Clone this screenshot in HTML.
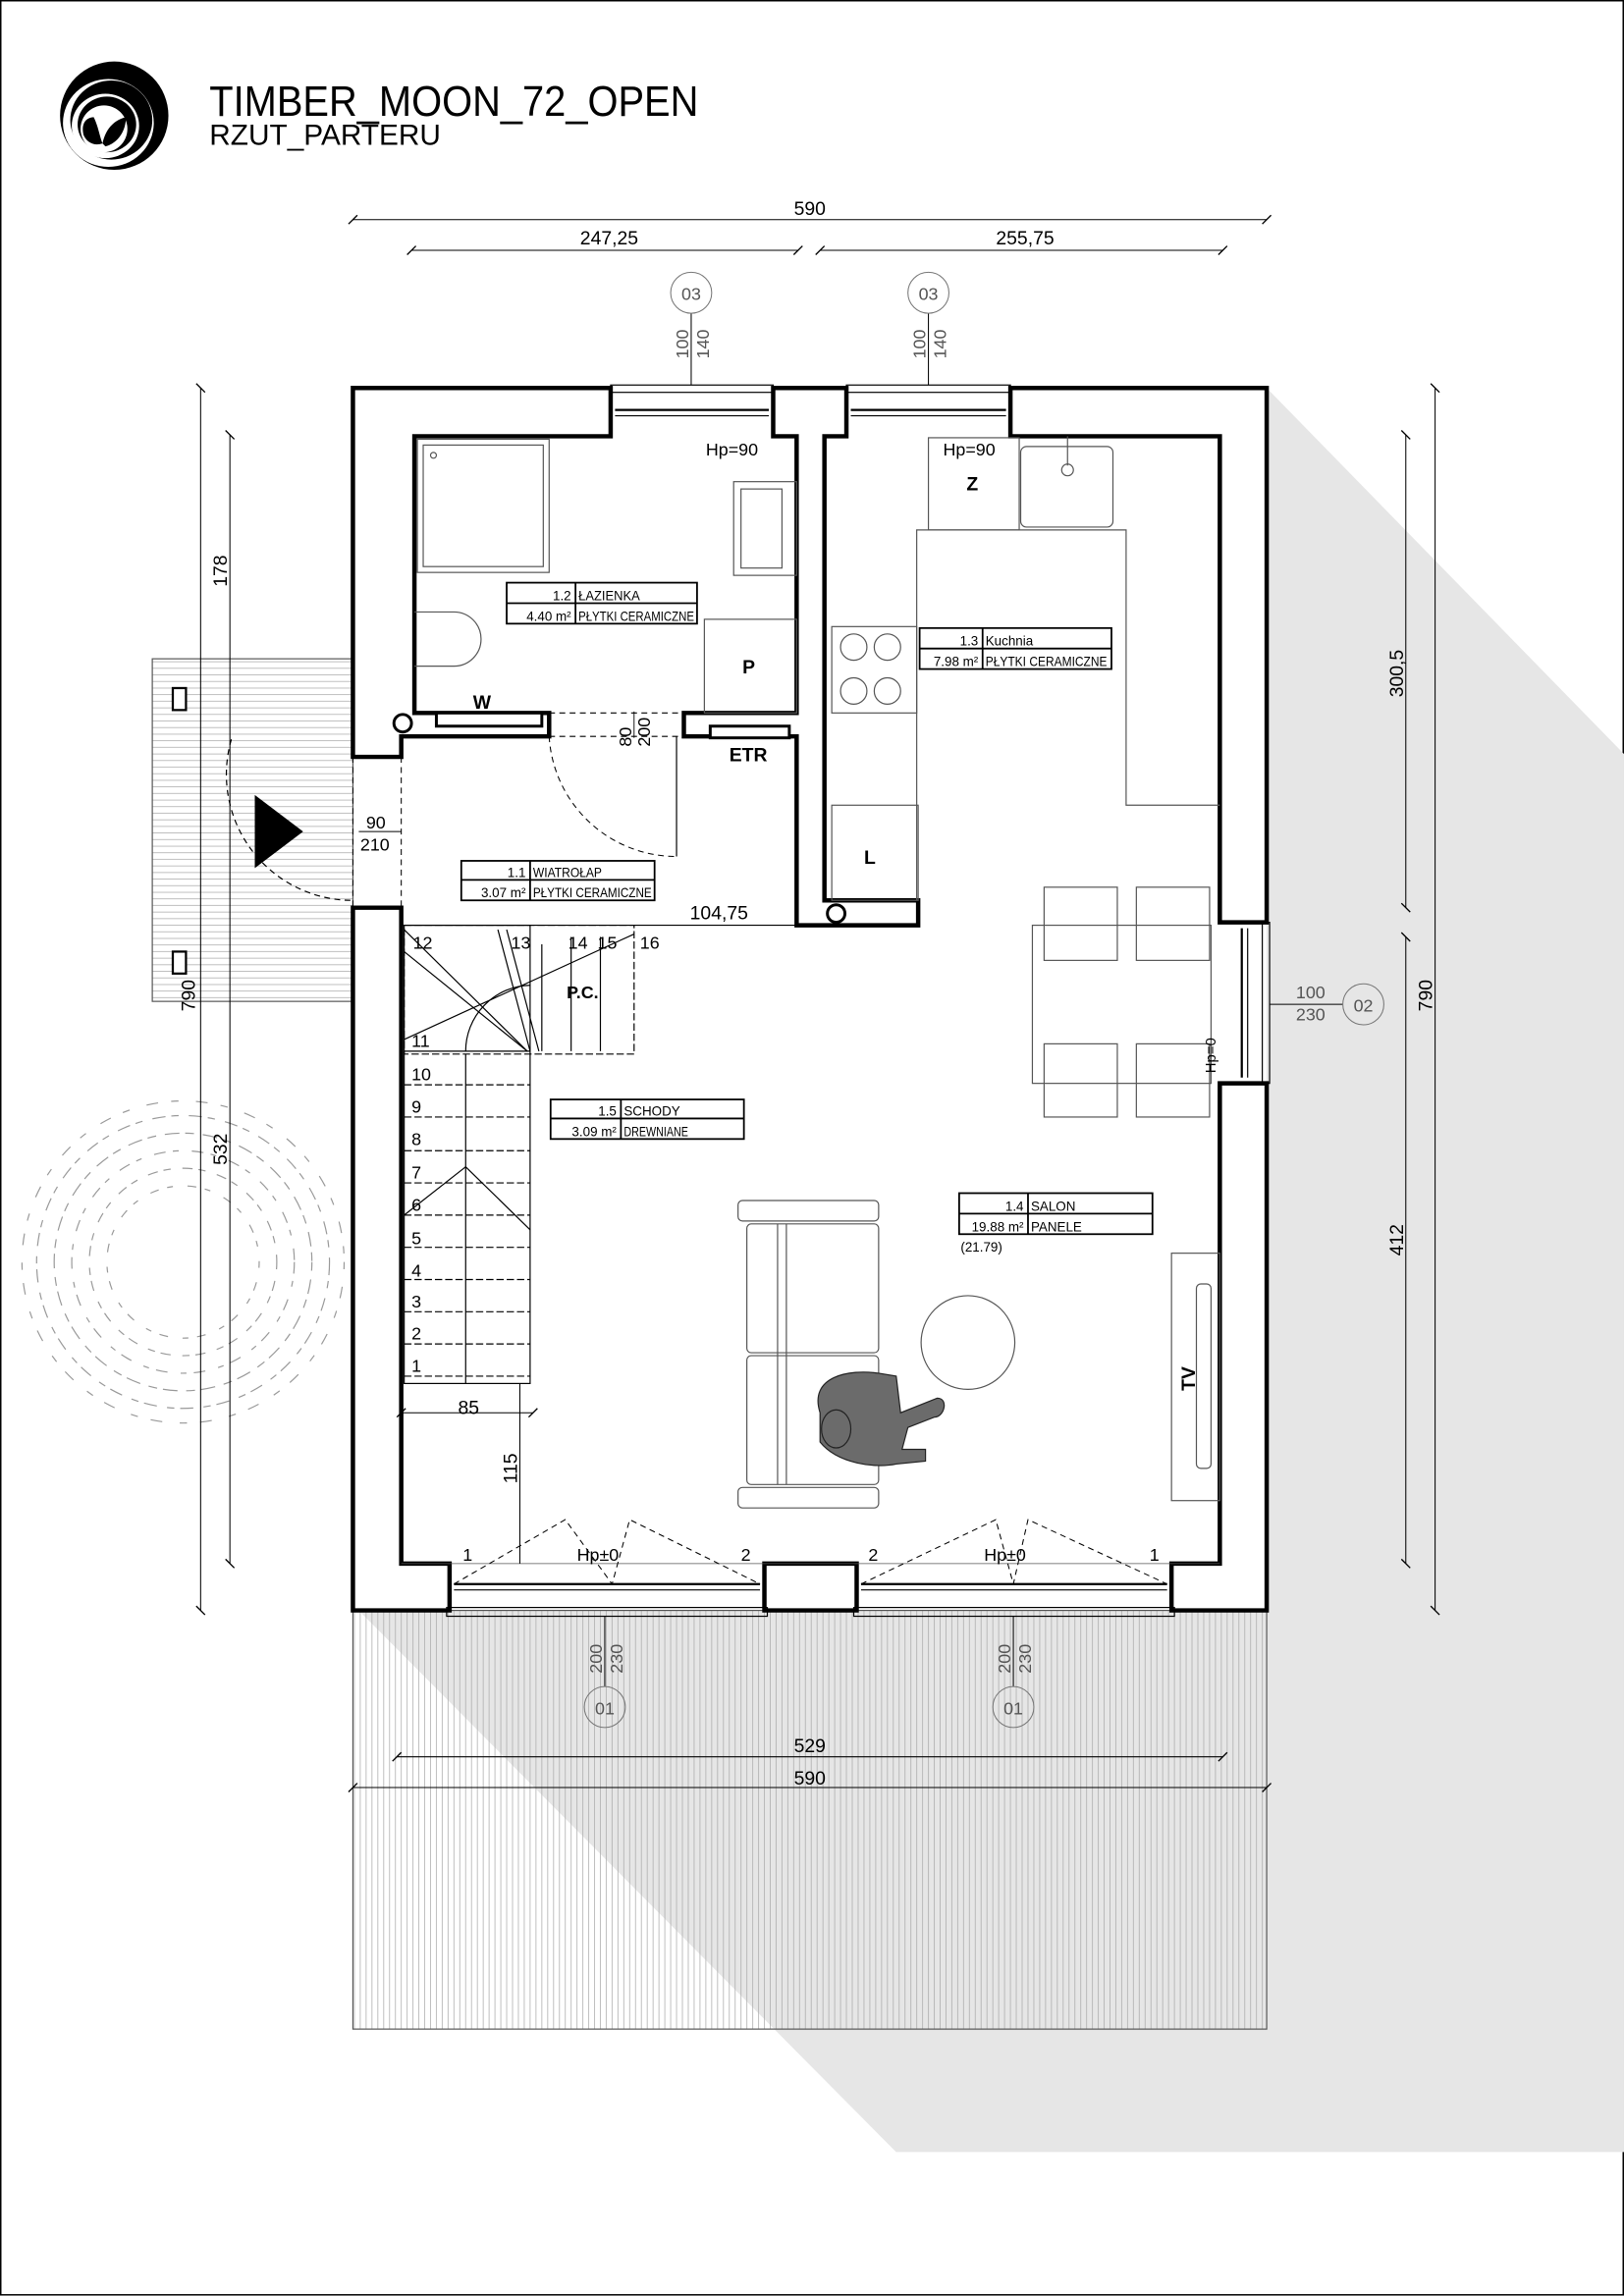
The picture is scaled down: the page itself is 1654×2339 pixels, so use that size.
<!DOCTYPE html>
<html><head><meta charset="utf-8"><style>
html,body{margin:0;padding:0;background:#fff}
svg{display:block}
text{font-family:"Liberation Sans",sans-serif}
</style></head><body>
<svg width="1654" height="2339" viewBox="0 0 1109 1568.3" xmlns="http://www.w3.org/2000/svg">
<rect x="0.5" y="0.5" width="1108" height="1567" fill="#fff" stroke="#000" stroke-width="1"/>
<polygon points="865,265 1109,515 1109,1470 612,1470 245,1100 865,1100" fill="#e6e6e6"/>
<pattern id="vl" width="4" height="10" patternUnits="userSpaceOnUse"><line x1="2" y1="0" x2="2" y2="10" stroke="#aaa" stroke-width="0.5"/></pattern>
<rect x="241" y="1100" width="624" height="286" fill="url(#vl)" stroke="#555" stroke-width="0.8"/>
<pattern id="hl" width="10" height="4.5" patternUnits="userSpaceOnUse"><line x1="0" y1="2" x2="10" y2="2" stroke="#aaa" stroke-width="0.5"/></pattern>
<rect x="104" y="450" width="137" height="234" fill="url(#hl)" stroke="#555" stroke-width="0.8"/>
<rect x="118" y="470" width="9" height="15" fill="#fff" stroke="#000" stroke-width="1.5"/>
<rect x="118" y="650" width="9" height="15" fill="#fff" stroke="#000" stroke-width="1.5"/>
<polygon points="174,543 207,568 174,593" fill="#000"/>
<path d="M158,505 A86,86 0 0 0 241,615" fill="none" stroke="#000" stroke-width="0.8" stroke-dasharray="4,3"/>
<g fill="none" stroke="#999" stroke-width="0.8">
<circle cx="125" cy="862" r="100" stroke-dasharray="9,4,5,7"/>
<circle cx="125" cy="862" r="88" stroke-dasharray="6,6,10,4"/>
<circle cx="125" cy="862" r="76" stroke-dasharray="8,5,4,9"/>
<circle cx="125" cy="862" r="64" stroke-dasharray="5,8,7,4"/>
<circle cx="125" cy="862" r="52" stroke-dasharray="4,10,6,6"/>
<circle cx="125" cy="862" r="110" stroke-dasharray="5,12,8,9"/>
</g>
<g fill="#fff" stroke="#000" stroke-width="3" stroke-linejoin="miter">
<polygon points="241,265 417,265 417,298 283,298 283,487 375,487 375,503 274,503 274,517 241,517"/>
<polygon points="528,265 578,265 578,298 563,298 563,615 627,615 627,632 544,632 544,503 467,503 467,487 544,487 544,298 528,298"/>
<polygon points="690,265 865,265 865,630 833,630 833,298 690,298"/>
<polygon points="833,740 865,740 865,1100 800,1100 800,1068 833,1068"/>
<polygon points="522,1068 585,1068 585,1100 522,1100"/>
<polygon points="241,620 274,620 274,1068 307,1068 307,1100 241,1100"/>
</g>
<g fill="none" stroke="#000" stroke-width="0.8">
<rect x="417" y="263" width="111" height="5"/><line x1="420" y1="280" x2="525" y2="280" stroke-width="1.5"/><line x1="420" y1="284" x2="525" y2="284"/>
<rect x="578" y="263" width="112" height="5"/><line x1="581" y1="280" x2="687" y2="280" stroke-width="1.5"/><line x1="581" y1="284" x2="687" y2="284"/>
<rect x="862" y="630" width="5" height="110"/><line x1="848" y1="634" x2="848" y2="736" stroke-width="1.5"/><line x1="852" y1="634" x2="852" y2="736"/>
<rect x="305" y="1098" width="219" height="6"/><line x1="310" y1="1082" x2="519" y2="1082" stroke-width="1.5"/><line x1="310" y1="1086" x2="519" y2="1086"/>
<rect x="583" y="1098" width="219" height="6"/><line x1="588" y1="1082" x2="797" y2="1082" stroke-width="1.5"/><line x1="588" y1="1086" x2="797" y2="1086"/>
<line x1="274" y1="1068" x2="833" y2="1068" stroke="#555" stroke-width="0.5"/>
</g>
<g fill="none" stroke="#000" stroke-width="0.7" stroke-dasharray="4,3">
<path d="M310,1082 L386,1038 L418,1082 L430,1038 L519,1082"/>
<path d="M588,1082 L680,1038 L692,1082 L702,1038 L797,1082"/>
<path d="M375,503 A87,87 0 0 0 462,585"/>
<line x1="375" y1="487" x2="467" y2="487"/><line x1="375" y1="503" x2="467" y2="503"/>
<line x1="241" y1="517" x2="241" y2="620"/><line x1="274" y1="517" x2="274" y2="620"/>
</g>
<line x1="462" y1="503" x2="462" y2="585" stroke="#000" stroke-width="0.8"/>
<g fill="none" stroke="#555" stroke-width="0.8">
<rect x="285" y="300" width="90" height="91"/><rect x="289" y="304" width="82" height="83"/>
<circle cx="296" cy="311" r="2"/>
<rect x="501" y="329" width="43" height="64"/><rect x="506" y="334" width="28" height="54"/>
<path d="M283,418 H310 A18,18 0 0 1 310,455 H283"/>
<rect x="481" y="423" width="63" height="64"/>
<rect x="298" y="487" width="72" height="9" stroke="#000" stroke-width="2" fill="#fff"/>
<rect x="485" y="496" width="54" height="8" stroke="#000" stroke-width="2" fill="#fff"/>
<rect x="634" y="299" width="62" height="63"/>
<rect x="697" y="305" width="63" height="55" rx="4"/><circle cx="729" cy="321" r="4"/><line x1="729" y1="298" x2="729" y2="318"/>
<path d="M626,615 V362 H769 V550 H833"/>
<rect x="568" y="428" width="58" height="59"/>
<circle cx="583" cy="442" r="9"/><circle cx="606" cy="442" r="9"/><circle cx="583" cy="472" r="9"/><circle cx="606" cy="472" r="9"/>
<rect x="568" y="550" width="59" height="65"/>
<rect x="705" y="632" width="122" height="108"/>
<rect x="713" y="606" width="50" height="50"/><rect x="776" y="606" width="50" height="50"/>
<rect x="713" y="713" width="50" height="50"/><rect x="776" y="713" width="50" height="50"/>
<rect x="504" y="820" width="96" height="14" rx="3"/><rect x="504" y="1016" width="96" height="14" rx="3"/>
<rect x="510" y="836" width="90" height="88" rx="3"/><rect x="510" y="926" width="90" height="88" rx="3"/>
<line x1="537" y1="836" x2="537" y2="1014"/><line x1="531" y1="836" x2="531" y2="1014"/>
<circle cx="661" cy="917" r="32"/>
<rect x="800" y="856" width="33" height="169"/><rect x="817" y="877" width="10" height="126" rx="3"/>
</g>
<circle cx="275" cy="494" r="6" fill="#fff" stroke="#000" stroke-width="2"/>
<circle cx="571" cy="624" r="6" fill="#fff" stroke="#000" stroke-width="2"/>
<g fill="#6b6b6b" stroke="#222" stroke-width="0.8">
<path d="M560,965 C552,940 580,935 600,938 L612,940 L615,965 L640,955 C648,955 645,968 638,968 L620,975 L616,990 L632,990 L632,998 L612,1000 C598,1003 572,1000 560,985 Z"/>
<ellipse cx="571" cy="976" rx="10" ry="13"/>
</g>
<g fill="none" stroke="#000" stroke-width="0.8">
<rect x="276" y="632" width="86" height="313"/>
<line x1="318" y1="720" x2="318" y2="945"/>
<line x1="276" y1="718" x2="362" y2="718"/>
<g stroke-dasharray="5,2">
<line x1="276" y1="741" x2="362" y2="741"/><line x1="276" y1="763" x2="362" y2="763"/><line x1="276" y1="786" x2="362" y2="786"/>
<line x1="276" y1="808" x2="362" y2="808"/><line x1="276" y1="830" x2="362" y2="830"/><line x1="276" y1="852" x2="362" y2="852"/>
<line x1="276" y1="874" x2="362" y2="874"/><line x1="276" y1="896" x2="362" y2="896"/><line x1="276" y1="918" x2="362" y2="918"/><line x1="276" y1="940" x2="362" y2="940"/>
<rect x="276" y="632" width="157" height="88"/>
</g>
<line x1="276" y1="635" x2="360" y2="718"/><line x1="276" y1="650" x2="360" y2="718"/>
<line x1="340" y1="635" x2="362" y2="718"/><line x1="346" y1="635" x2="368" y2="718"/>
<line x1="276" y1="710" x2="433" y2="638"/>
<line x1="370" y1="645" x2="370" y2="718"/><line x1="390" y1="640" x2="390" y2="718"/><line x1="410" y1="640" x2="410" y2="718"/>
<path d="M318,718 A45,45 0 0 1 362,673"/>
<line x1="276" y1="830" x2="318" y2="797"/><line x1="318" y1="797" x2="362" y2="840"/>
</g>
<g font-size="12" fill="#000">
<text x="281" y="937">1</text><text x="281" y="915">2</text><text x="281" y="893">3</text><text x="281" y="872">4</text><text x="281" y="850">5</text><text x="281" y="827">6</text><text x="281" y="805">7</text><text x="281" y="782">8</text><text x="281" y="760">9</text><text x="281" y="738">10</text><text x="281" y="715">11</text>
<text x="282" y="648">12</text><text x="349" y="648">13</text><text x="388" y="648">14</text><text x="408" y="648">15</text><text x="437" y="648">16</text>
</g>
<text x="387" y="682" font-size="12" font-weight="bold">P.C.</text>
<g fill="none" stroke="#000" stroke-width="1.2">
<rect x="346" y="398" width="130" height="28"/><line x1="346" y1="412" x2="476" y2="412"/><line x1="393" y1="398" x2="393" y2="426"/>
<rect x="628" y="429" width="131" height="28"/><line x1="628" y1="443" x2="759" y2="443"/><line x1="671" y1="429" x2="671" y2="457"/>
<rect x="315" y="588" width="132" height="27"/><line x1="315" y1="601" x2="447" y2="601"/><line x1="362" y1="588" x2="362" y2="615"/>
<rect x="376" y="751" width="132" height="27"/><line x1="376" y1="764" x2="508" y2="764"/><line x1="424" y1="751" x2="424" y2="778"/>
<rect x="655" y="815" width="132" height="28"/><line x1="655" y1="829" x2="787" y2="829"/><line x1="702" y1="815" x2="702" y2="843"/>
</g>
<g font-size="9" fill="#000">
<text x="390" y="410" text-anchor="end">1.2</text><text x="395" y="410" textLength="42" lengthAdjust="spacingAndGlyphs">ŁAZIENKA</text>
<text x="390" y="424" text-anchor="end">4.40 m²</text><text x="395" y="424" textLength="79" lengthAdjust="spacingAndGlyphs">PŁYTKI CERAMICZNE</text>
<text x="668" y="441" text-anchor="end">1.3</text><text x="673" y="441">Kuchnia</text>
<text x="668" y="455" text-anchor="end">7.98 m²</text><text x="673" y="455" textLength="83" lengthAdjust="spacingAndGlyphs">PŁYTKI CERAMICZNE</text>
<text x="359" y="599" text-anchor="end">1.1</text><text x="364" y="599" textLength="47" lengthAdjust="spacingAndGlyphs">WIATROŁAP</text>
<text x="359" y="613" text-anchor="end">3.07 m²</text><text x="364" y="613" textLength="81" lengthAdjust="spacingAndGlyphs">PŁYTKI CERAMICZNE</text>
<text x="421" y="762" text-anchor="end">1.5</text><text x="426" y="762">SCHODY</text>
<text x="421" y="776" text-anchor="end">3.09 m²</text><text x="426" y="776" textLength="44" lengthAdjust="spacingAndGlyphs">DREWNIANE</text>
<text x="699" y="827" text-anchor="end">1.4</text><text x="704" y="827">SALON</text>
<text x="699" y="841" text-anchor="end">19.88 m²</text><text x="704" y="841">PANELE</text>
<text x="656" y="855">(21.79)</text>
</g>
<g font-size="13" font-weight="bold">
<text x="323" y="484">W</text><text x="507" y="460">P</text><text x="498" y="520">ETR</text><text x="660" y="335">Z</text><text x="590" y="590">L</text>
<text transform="translate(816,950) rotate(-90)">TV</text>
</g>
<g font-size="12" fill="#000">
<text x="482" y="311">Hp=90</text><text x="644" y="311">Hp=90</text>
<text transform="translate(830,733) rotate(-90)" font-size="10">Hp=0</text>
<text x="316" y="1066">1</text><text x="394" y="1066">Hp±0</text><text x="506" y="1066">2</text>
<text x="593" y="1066">2</text><text x="672" y="1066">Hp±0</text><text x="785" y="1066">1</text>
<text x="250" y="566">90</text><text x="246" y="581">210</text>
<text transform="translate(431,510) rotate(-90)">80</text>
<text transform="translate(444,510) rotate(-90)">200</text>
</g>
<line x1="245" y1="568" x2="274" y2="568" stroke="#000" stroke-width="0.6"/>
<line x1="433" y1="486" x2="433" y2="504" stroke="#000" stroke-width="0.6"/>
<g stroke="#000" stroke-width="0.7" fill="none">
<line x1="241" y1="150" x2="865" y2="150"/><line x1="281" y1="171" x2="545" y2="171"/><line x1="560" y1="171" x2="835" y2="171"/>
<line x1="137" y1="265" x2="137" y2="1100"/><line x1="157" y1="297" x2="157" y2="1068"/>
<line x1="980" y1="265" x2="980" y2="1100"/><line x1="960" y1="297" x2="960" y2="620"/><line x1="960" y1="640" x2="960" y2="1068"/>
<line x1="271" y1="1200" x2="835" y2="1200"/><line x1="241" y1="1221" x2="865" y2="1221"/>
<line x1="274" y1="632" x2="544" y2="632"/>
<line x1="274" y1="965" x2="364" y2="965"/><line x1="355" y1="945" x2="355" y2="1068"/>
<line x1="472" y1="214" x2="472" y2="263"/><line x1="634" y1="214" x2="634" y2="263"/>
<line x1="413" y1="1104" x2="413" y2="1152"/><line x1="692" y1="1104" x2="692" y2="1152"/>
<line x1="867" y1="686" x2="917" y2="686"/>
</g>
<g stroke="#000" stroke-width="0.9">
<path d="M238,153 l6,-6 M862,153 l6,-6 M278,174 l6,-6 M542,174 l6,-6 M557,174 l6,-6 M832,174 l6,-6 M134,262 l6,6 M134,1097 l6,6 M154,294 l6,6 M154,1065 l6,6 M977,262 l6,6 M977,1097 l6,6 M957,294 l6,6 M957,617 l6,6 M957,637 l6,6 M957,1065 l6,6 M268,1203 l6,-6 M832,1203 l6,-6 M238,1224 l6,-6 M862,1224 l6,-6 M271,968 l6,-6 M361,968 l6,-6"/>
</g>
<g fill="none" stroke="#777" stroke-width="0.7">
<circle cx="472" cy="200" r="14"/><circle cx="634" cy="200" r="14"/>
<circle cx="413" cy="1166" r="14"/><circle cx="692" cy="1166" r="14"/>
<circle cx="931" cy="686" r="14"/>
</g>
<g font-size="13" fill="#000">
<text x="553" y="147" text-anchor="middle">590</text>
<text x="416" y="167" text-anchor="middle">247,25</text>
<text x="700" y="167" text-anchor="middle">255,75</text>
<text x="553" y="1197" text-anchor="middle">529</text>
<text x="553" y="1219" text-anchor="middle">590</text>
<text x="491" y="628" text-anchor="middle">104,75</text>
<text x="320" y="966" text-anchor="middle">85</text>
<text transform="translate(353,1003) rotate(-90)" text-anchor="middle">115</text>
<text transform="translate(155,390) rotate(-90)" text-anchor="middle">178</text>
<text transform="translate(133,680) rotate(-90)" text-anchor="middle">790</text>
<text transform="translate(155,785) rotate(-90)" text-anchor="middle">532</text>
<text transform="translate(978,680) rotate(-90)" text-anchor="middle">790</text>
<text transform="translate(958,460) rotate(-90)" text-anchor="middle">300,5</text>
<text transform="translate(958,847) rotate(-90)" text-anchor="middle">412</text>
</g>
<g font-size="12" fill="#555">
<text x="472" y="205" text-anchor="middle">03</text><text x="634" y="205" text-anchor="middle">03</text>
<text x="413" y="1171" text-anchor="middle">01</text><text x="692" y="1171" text-anchor="middle">01</text>
<text x="931" y="691" text-anchor="middle">02</text>
<text transform="translate(470,235) rotate(-90)" text-anchor="middle">100</text>
<text transform="translate(484,235) rotate(-90)" text-anchor="middle">140</text>
<text transform="translate(632,235) rotate(-90)" text-anchor="middle">100</text>
<text transform="translate(646,235) rotate(-90)" text-anchor="middle">140</text>
<text transform="translate(411,1133) rotate(-90)" text-anchor="middle">200</text>
<text transform="translate(425,1133) rotate(-90)" text-anchor="middle">230</text>
<text transform="translate(690,1133) rotate(-90)" text-anchor="middle">200</text>
<text transform="translate(704,1133) rotate(-90)" text-anchor="middle">230</text>
<text x="895" y="682" text-anchor="middle">100</text>
<text x="895" y="697" text-anchor="middle">230</text>
</g>
<g>
<ellipse cx="78" cy="79" rx="37" ry="37" fill="#000"/>
<ellipse cx="74" cy="84" rx="31" ry="30" fill="#fff"/>
<ellipse cx="76" cy="82" rx="28" ry="27" fill="#000"/>
<ellipse cx="72" cy="86" rx="23" ry="22" fill="#fff"/>
<ellipse cx="73" cy="85" rx="20" ry="19" fill="#000"/>
<ellipse cx="71" cy="88" rx="16" ry="16" fill="#fff"/>
<path d="M57,92 C55,83 60,80 64,80 C67,86 68,93 70,98 C64,100 59,97 57,92 Z M70,98 C72,88 78,82 86,80 C86,90 80,98 72,100 Z" fill="#000"/>
</g>
<text x="143" y="79" font-size="29" textLength="334" lengthAdjust="spacingAndGlyphs">TIMBER_MOON_72_OPEN</text>
<text x="143" y="99" font-size="20" textLength="158" lengthAdjust="spacingAndGlyphs">RZUT_PARTERU</text>
</svg>
</body></html>
